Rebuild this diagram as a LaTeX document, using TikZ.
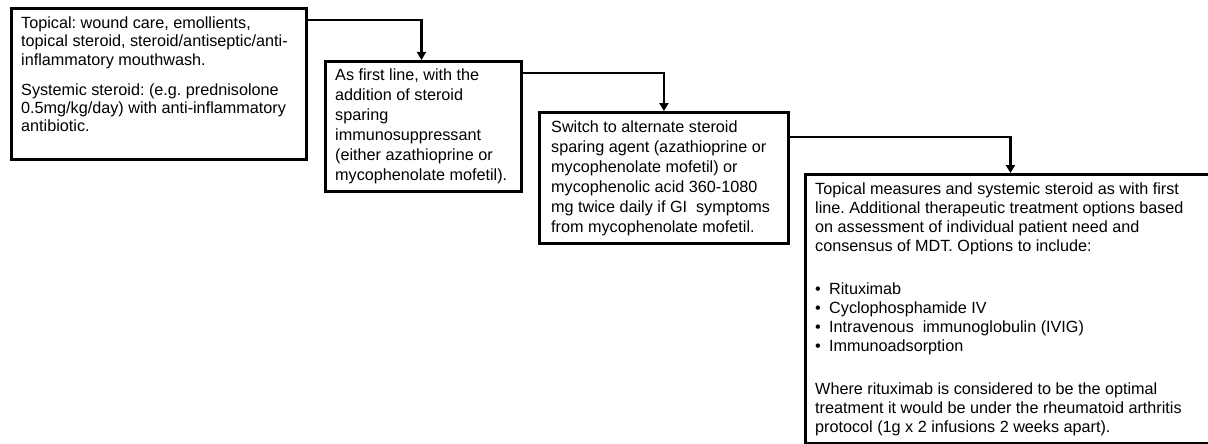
\documentclass[tikz,border=0pt]{standalone}
\usepackage{fontspec}
\setmainfont{Liberation Sans}
\usetikzlibrary{arrows.meta}
\frenchspacing
\begin{document}
\begin{tikzpicture}[x=1pt,y=-1pt,
  box/.style={draw=black, line width=2.9pt, anchor=north west, inner sep=0pt},
  txt/.style={anchor=north west, inner sep=0pt, align=left},
  conn/.style={line width=2.8pt, -{Triangle[width=9pt,length=8pt]}}]
\useasboundingbox (0,0) rectangle (1208,444);
\node[box, minimum width=295pt, minimum height=151pt] (b1) at (10,7) {};
\node[box, minimum width=196pt, minimum height=130pt] (b2) at (324,60) {};
\node[box, minimum width=249pt, minimum height=131pt] (b3) at (538,111) {};
\node[box, minimum width=420pt, minimum height=269pt] (b4) at (804,173) {};

\node[txt, font=\fontsize{16.2}{18.3}\selectfont] (t1) at (21,16.5)
  {Topical: wound care, emollients,\\
   topical steroid, steroid/antiseptic/anti-\\
   inflammatory mouthwash.\\[11.7pt]
   Systemic steroid: (e.g. prednisolone\\
   0.5mg/kg/day) with anti-inflammatory\\
   antibiotic.};
\node[txt, font=\fontsize{16.2}{20}\selectfont] (t2) at (335,68.3)
  {As first line, with the\\
   addition of steroid\\
   sparing\\
   immunosuppressant\\
   (either azathioprine or\\
   mycophenolate mofetil).};
\node[txt, font=\fontsize{16.2}{20}\selectfont] (t3) at (551,121)
  {Switch to alternate steroid\\
   sparing agent (azathioprine or\\
   mycophenolate mofetil) or\\
   mycophenolic acid 360-1080\\
   mg twice daily if GI\ \ symptoms\\
   from mycophenolate mofetil.};
\node[txt, font=\fontsize{16.2}{19}\selectfont] (t4) at (815,182.3)
  {Topical measures and systemic steroid as with first\\
   line. Additional therapeutic treatment options based\\
   on assessment of individual patient need and\\
   consensus of MDT. Options to include:\\[24.3pt]
   \makebox[14pt][l]{•}Rituximab\\
   \makebox[14pt][l]{•}Cyclophosphamide IV\\
   \makebox[14pt][l]{•}Intravenous\ \ immunoglobulin (IVIG)\\
   \makebox[14pt][l]{•}Immunoadsorption\\[24.3pt]
   Where rituximab is considered to be the optimal\\
   treatment it would be under the rheumatoid arthritis\\
   protocol (1g x 2 infusions 2 weeks apart).};

\draw[conn] ([yshift=-13pt]b1.north east) -| ([xshift=-2pt]b2.north);
\draw[conn] ([yshift=-13pt]b2.north east) -| (b3.north);
\draw[conn] ([yshift=-26pt]b3.north east) -| ([xshift=-5pt]b4.north);
\end{tikzpicture}
\end{document}
